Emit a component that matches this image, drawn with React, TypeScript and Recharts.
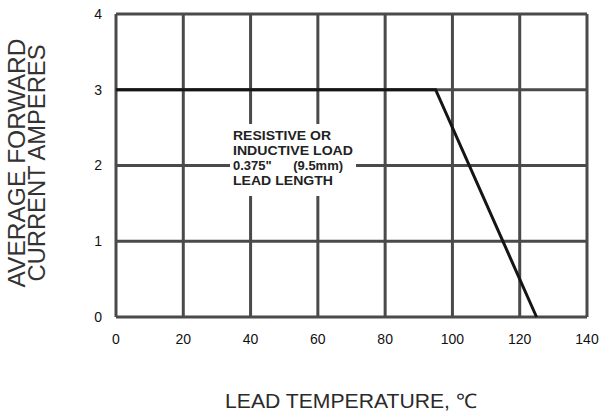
import { LineChart, Line, XAxis, YAxis, CartesianGrid } from 'recharts'

// derating curve
const leadTemp = [0, 95, 125]
const avgCurrent = [3, 3, 0]

const xTicks = [0, 20, 40, 60, 80, 100, 120, 140]
const yTicks = [0, 1, 2, 3, 4]

const yTitle = ['AVERAGE FORWARD', 'CURRENT AMPERES']
const xTitle = 'LEAD TEMPERATURE, \u2103'
const note = ['RESISTIVE OR', 'INDUCTIVE LOAD', '0.375"      (9.5mm)', 'LEAD LENGTH']

const data = leadTemp.map((t, i) => ({ t, amps: avgCurrent[i] }))

const font = 'Arial, "Liberation Sans", Helvetica, sans-serif'

const App = () => {
  return (
    <div style={{ position: 'absolute', left: 0, top: 0, width: 608, height: 416, background: '#fff' }}>
      <LineChart
        width={608}
        height={416}
        data={data}
        margin={{ top: 14, right: 21, left: 0, bottom: 69 }}
      >
        <CartesianGrid stroke="#4a4a4a" strokeWidth={3} />
        <XAxis
          dataKey="t"
          type="number"
          domain={[0, 140]}
          ticks={xTicks}
          height={30}
          axisLine={false}
          tickLine={false}
          tickMargin={11}
          tick={{ fontSize: 14, fill: '#111', fontFamily: font }}
        />
        <YAxis
          dataKey="amps"
          type="number"
          domain={[0, 4]}
          ticks={yTicks}
          width={116}
          axisLine={false}
          tickLine={false}
          tickMargin={8}
          tick={{ fontSize: 14, fill: '#111', fontFamily: font }}
        />
        <Line
          dataKey="amps"
          type="linear"
          stroke="#151515"
          strokeWidth={3}
          dot={false}
          isAnimationActive={false}
        />
      </LineChart>

      {/* titles and the note box */}
      <svg
        width={608}
        height={416}
        style={{ position: 'absolute', left: 0, top: 0, pointerEvents: 'none' }}
        fontFamily={font}
      >
        {yTitle.map((s, i) => (
          <text
            key={s}
            x={0}
            y={0}
            transform={`translate(${25 + i * 20}, 163) rotate(-90)`}
            textAnchor="middle"
            fontSize={24}
            fill="#333"
            textLength={i === 0 ? 249 : 237}
            lengthAdjust="spacingAndGlyphs"
          >
            {s}
          </text>
        ))}
        <text
          x={351}
          y={408}
          textAnchor="middle"
          fontSize={20}
          fill="#2a2a2a"
          textLength={252}
          lengthAdjust="spacingAndGlyphs"
        >
          {xTitle}
        </text>

        <rect x={230} y={124} width={126} height={72} fill="#fff" />
        {note.map((s, i) => (
          <text
            key={s}
            x={233}
            y={140 + i * 15}
            fontSize={12}
            fontWeight="bold"
            fill="#222"
            style={{ whiteSpace: 'pre' }}
            textLength={[98, 120, 110, 100][i]}
            lengthAdjust="spacingAndGlyphs"
          >
            {s}
          </text>
        ))}
      </svg>
    </div>
  )
}

export default App
